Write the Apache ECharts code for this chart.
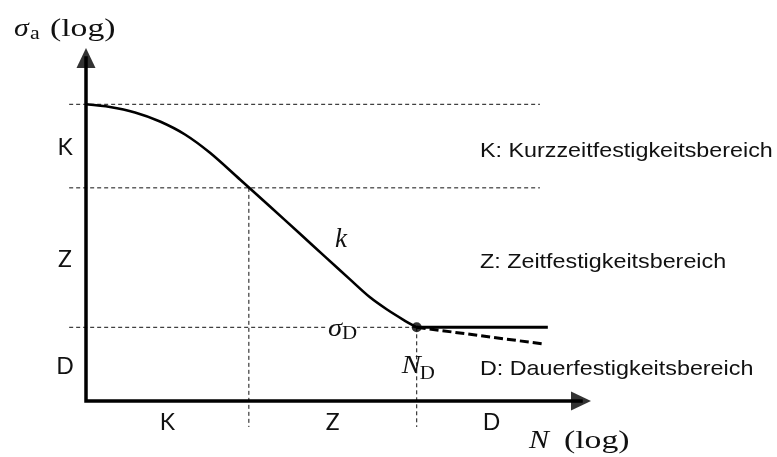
<!DOCTYPE html>
<html>
<head>
<meta charset="utf-8">
<script src="https://cdn.jsdelivr.net/npm/echarts@6/dist/echarts.min.js"></script>
<style>
  html, body { margin: 0; padding: 0; background: #fff; }
  #chart { width: 777px; height: 457px; }
</style>
</head>
<body>
<div id="chart"></div>
<script>
// Schematic S-N (Wöhler) curve, both axes logarithmic (arbitrary units)

// support points of the curve from the static strength down to the knee point
const curveLogN = [0.00, 0.485, 0.99, 1.495, 2.00, 2.505, 3.111, 3.717, 4.323, 4.828, 5.333, 5.737, 6.081, 6.404, 6.681];
const curveLogS = [6.055, 6.00, 5.888, 5.704, 5.439, 5.065, 4.520, 3.969, 3.412, 2.947, 2.482, 2.116, 1.867, 1.663, 1.504];

// knee point (N_D, sigma_D) and the two continuations beyond it
const kneePoint      = [6.681, 1.504];
const plateauEnd     = [9.33, 1.504];
const furtherDropEnd = [9.27, 1.16];

// region boundaries: N at K|Z and Z|D, sigma levels at top, K|Z and Z|D
const regionBoundsN = [3.29, 6.681];
const regionLevelsS = [6.055, 4.35, 1.504];

// axis ends (arrow heads)
const axisEnds = [10, 7];

// region texts
const regionLetters = ['K', 'Z', 'D'];
const regionNames = [
  'K: Kurzzeitfestigkeitsbereich',
  'Z: Zeitfestigkeitsbereich',
  'D: Dauerfestigkeitsbereich'
];

// ---- layout (not data) ----
const guideLeft = -0.34;     // where horizontal guides start (left of the axis)
const guideRight = 9.17;     // where the two upper guides end
const guideBottom = -0.53;   // where vertical guides end (below the axis)

const chart = echarts.init(document.getElementById('chart'), null, { renderer: 'canvas' });

const dashed = { color: '#111', width: 1, type: [4, 3] };

function seg(points, lineStyle, z) {
  return {
    type: 'line', data: points, symbol: 'none', clip: false, silent: true,
    animation: false, lineStyle: lineStyle, z: z || 2
  };
}

const series = [];

// horizontal guides
series.push(seg([[guideLeft, regionLevelsS[0]], [guideRight, regionLevelsS[0]]], dashed, 1));
series.push(seg([[guideLeft, regionLevelsS[1]], [guideRight, regionLevelsS[1]]], dashed, 1));
series.push(seg([[guideLeft, regionLevelsS[2]], [kneePoint[0], regionLevelsS[2]]], dashed, 1));
// vertical guides
series.push(seg([[regionBoundsN[0], regionLevelsS[1]], [regionBoundsN[0], guideBottom]], dashed, 1));
series.push(seg([[regionBoundsN[1], regionLevelsS[2]], [regionBoundsN[1], guideBottom]], dashed, 1));

// axes as one polyline, arrow heads as triangles
series.push(seg([[0, axisEnds[1]], [0, 0], [axisEnds[0], 0]],
  { color: '#000', width: 3.5, join: 'miter', cap: 'square' }, 5));
series.push({
  type: 'scatter', clip: false, silent: true, animation: false, z: 6,
  symbol: 'triangle', symbolSize: [19, 20],
  itemStyle: { color: '#000' },
  data: [
    { value: [0, axisEnds[1]], symbolRotate: 0 },
    { value: [axisEnds[0], 0], symbolRotate: -90 }
  ]
});

// the S-N curve
series.push({
  type: 'line', clip: false, silent: true, animation: false, z: 4,
  symbol: 'none', smooth: 0.3,
  lineStyle: { color: '#000', width: 2.6 },
  data: curveLogN.map((n, i) => [n, curveLogS[i]])
});
// endurance limit plateau
series.push(seg([kneePoint, plateauEnd], { color: '#000', width: 3 }, 4));
// optional further decrease (dashed)
series.push(seg([kneePoint, furtherDropEnd], { color: '#000', width: 3, type: [9, 4] }, 4));
// knee point marker
series.push({
  type: 'scatter', clip: false, silent: true, animation: false, z: 7,
  symbol: 'circle', symbolSize: 10, itemStyle: { color: '#000' },
  data: [kneePoint]
});

chart.setOption({
  animation: false,
  backgroundColor: '#fff',
  grid: { left: 56.3, width: 544.5, top: 38.4, height: 396.9 },
  xAxis: { type: 'value', min: -0.6, max: 10.4, show: false },
  yAxis: { type: 'value', min: -0.7, max: 7.4, show: false },
  series: series
});

// ---- annotations ----
const P = (x, y) => chart.convertToPixel({ gridIndex: 0 }, [x, y]);
const SANS = '"Liberation Sans", Arial, sans-serif';
const LETTER = 'Lato, "Open Sans", sans-serif';
const SERIF = '"Liberation Serif", "Times New Roman", serif';

function txt(px, py, text, font, opt) {
  opt = opt || {};
  return {
    type: 'text', x: px, y: py, scaleX: opt.sx || 1, silent: true, z: 20,
    style: {
      text: text, font: font, fill: opt.fill || '#111',
      align: opt.align || 'left', verticalAlign: opt.va || 'middle',
      backgroundColor: opt.bg, padding: opt.pad
    }
  };
}

const g = [];
const origin = P(0, 0);

// axis titles
g.push(txt(14, 29, 'σ', 'italic 26px ' + SERIF, { sx: 1.15 }));
g.push(txt(30, 34, 'a', '19px ' + SERIF, { sx: 1.15 }));
g.push(txt(50, 29, '(log)', '25px ' + SERIF, { sx: 1.35 }));

const nTitle = P(axisEnds[0], 0);
g.push(txt(nTitle[0] - 52, nTitle[1] + 40, 'N', 'italic 26px ' + SERIF, { sx: 1.15 }));
g.push(txt(nTitle[0] - 17, nTitle[1] + 40, '(log)', '25px ' + SERIF, { sx: 1.35 }));

// region letters along both axes
const yMids = [(regionLevelsS[0] + regionLevelsS[1]) / 2, (regionLevelsS[1] + regionLevelsS[2]) / 2, regionLevelsS[2] / 2];
const xMids = [regionBoundsN[0] / 2, (regionBoundsN[0] + regionBoundsN[1]) / 2, (regionBoundsN[1] + axisEnds[0] - 0.3) / 2];
regionLetters.forEach((L, i) => {
  const py = P(0, yMids[i])[1];
  g.push(txt(origin[0] - 21, py + 2, L, '23px ' + LETTER, { align: 'center' }));
  const px = P(xMids[i], 0)[0];
  g.push(txt(px, origin[1] + 22, L, '23px ' + LETTER, { align: 'center' }));
});

// region names on the right
regionNames.forEach((name, i) => {
  const py = P(0, yMids[i])[1];
  g.push(txt(480, py + 5, name, '21px ' + SANS, { sx: 1.11 }));
});

// slope exponent k
const kAt = P(5.15, 3.3);
g.push(txt(kAt[0], kAt[1] + 1, 'k', 'italic 27px ' + SERIF, { align: 'center' }));

// sigma_D on its guide line
const sD = P(5.17, kneePoint[1]);
g.push(txt(sD[0] - 16, sD[1], '   ', '20px ' + SERIF, { bg: '#fff', pad: [0, 4] }));
g.push(txt(sD[0] - 14, sD[1] + 2, 'σ', 'italic 26px ' + SERIF, { sx: 1.1, bg: '#fff' }));
g.push(txt(sD[0] + 0, sD[1] + 7, 'D', '19px ' + SERIF, { sx: 1.1, bg: '#fff' }));

// N_D below the knee point
const nD = P(kneePoint[0], 0);
g.push(txt(nD[0] - 15, nD[1] - 35, 'N', 'italic 26px ' + SERIF, { sx: 1.1 }));
g.push(txt(nD[0] + 3, nD[1] - 27, 'D', '19px ' + SERIF, { sx: 1.1 }));

chart.setOption({ graphic: g });
</script>
</body>
</html>
